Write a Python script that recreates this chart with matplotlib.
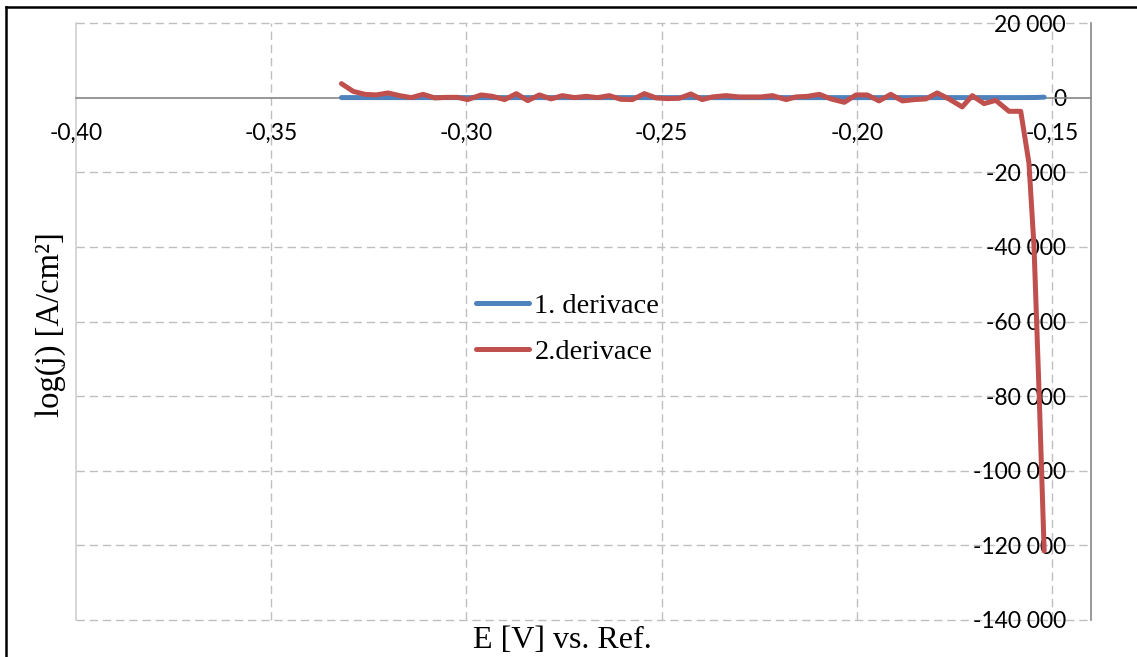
import numpy as np
import matplotlib
matplotlib.use("Agg")
import matplotlib.pyplot as plt
from matplotlib.lines import Line2D

# potencial [V] a hodnoty
e_red = [-0.3320, -0.3290, -0.3260, -0.3231, -0.3201, -0.3171, -0.3141, -0.3111,
         -0.3081, -0.3051, -0.3023, -0.2997, -0.2962, -0.2933, -0.2902, -0.2872,
         -0.2843, -0.2813, -0.2783, -0.2754, -0.2723, -0.2693, -0.2664, -0.2634,
         -0.2604, -0.2575, -0.2544, -0.2514, -0.2485, -0.2455, -0.2425, -0.2396,
         -0.2370, -0.2335, -0.2301, -0.2275, -0.2245, -0.2216, -0.2181, -0.2156,
         -0.2126, -0.2096, -0.2066, -0.2032, -0.2002, -0.1973, -0.1943, -0.1913,
         -0.1883, -0.1853, -0.1823, -0.1794, -0.1764, -0.1730, -0.1704, -0.1674,
         -0.1644, -0.1610, -0.1580, -0.1559, -0.1546, -0.1533, -0.1520]
d2 = [3748, 1687, 883, 723, 1258, 535, 0, 883,
      -80, 80, 80, -535, 723, 348, -535, 1071,
      -803, 723, -348, 535, 0, 348, 0, 535,
      -455, -535, 1071, -80, -268, -187, 990, -535,
      187, 535, 187, 187, 187, 535, -535, 187,
      348, 883, -348, -1258, 723, 723, -883, 883,
      -883, -535, -348, 1258, -348, -2490, 535, -1606,
      -723, -3668, -3668, -17483, -39813, -78983, -121473]

e_blue = [-0.3320, -0.3200, -0.3080, -0.2960, -0.2840, -0.2720, -0.2600, -0.2480,
          -0.2360, -0.2240, -0.2120, -0.2000, -0.1880, -0.1760, -0.1640, -0.1580,
          -0.1540, -0.1520]
d1 = [10, 5, 5, 4, 4, 3, 3, 3, 3, 3, 3, 3, 3, 4, 6, 10, 40, 120]

x_ticks = [-0.40, -0.35, -0.30, -0.25, -0.20, -0.15]
x_tick_labels = ["-0,40", "-0,35", "-0,30", "-0,25", "-0,20", "-0,15"]
y_ticks = [20000, 0, -20000, -40000, -60000, -80000, -100000, -120000, -140000]
y_tick_labels = ["20 000", "0", "-20 000", "-40 000", "-60 000", "-80 000",
                 "-100 000", "-120 000", "-140 000"]

W, H = 1137, 657
fig = plt.figure(figsize=(W / 100, H / 100), dpi=100)
ax = fig.add_axes([76 / W, 1 - 620 / H, (1091 - 76) / W, (620 - 23) / H])

blue = "#4F81BD"
red = "#C0504D"
grid_c = "#BFBFBF"
axis_c = "#868686"

l1, = ax.plot(e_blue, d1, color=blue, lw=3.6, solid_capstyle="round", zorder=3)
l2, = ax.plot(e_red, d2, color=red, lw=3.6, solid_capstyle="round", zorder=4)

ax.set_xlim(-0.40, -0.14)
ax.set_ylim(-140000, 20000)

# mrizka (carkovane)
for xv in x_ticks[1:]:
    ax.axvline(xv, color=grid_c, lw=1.0, ls=(0, (6, 3.5)), zorder=1, clip_on=False)
for yv in y_ticks:
    if yv != 0:
        ax.axhline(yv, color=grid_c, lw=1.0, ls=(0, (6, 3.5)), zorder=1, clip_on=False)

ax.spines["top"].set_visible(False)
ax.spines["bottom"].set_position(("data", 0))
ax.spines["bottom"].set_color(axis_c)
ax.spines["bottom"].set_linewidth(1.2)
ax.spines["left"].set_color("#D0D0D0")
ax.spines["left"].set_linewidth(1.2)
ax.spines["right"].set_color(axis_c)
ax.spines["right"].set_linewidth(1.2)

ax.set_xticks(x_ticks)
ax.set_xticklabels(x_tick_labels)
ax.set_yticks(y_ticks)
ax.set_yticklabels(y_tick_labels)
ax.yaxis.tick_right()
ax.tick_params(axis="x", length=0, pad=18, labelsize=16.5)
ax.tick_params(axis="y", length=0, pad=-18, labelsize=16.5)
for lab in ax.get_xticklabels() + ax.get_yticklabels():
    lab.set_fontfamily("Lato")
for lab in ax.get_yticklabels():
    lab.set_horizontalalignment("right")

serif = "Liberation Serif"
fig.text(562 / W, 1 - 640 / H, "E [V] vs. Ref.", family=serif, fontsize=23,
         ha="center", va="center")
fig.text(51 / W, 1 - 325 / H, "log(j) [A/cm²]", family=serif, fontsize=23.5,
         rotation=90, ha="center", va="center")

ax.legend([l1, l2], ["1. derivace", "2.derivace"], loc="upper left",
          bbox_to_anchor=(476 / W, 1 - 293 / H), bbox_transform=fig.transFigure,
          frameon=False, prop={"family": serif, "size": 20.5}, handlelength=1.85,
          handletextpad=0.2, labelspacing=0.72, borderpad=0, borderaxespad=0)

# ramecek grafu
fig.add_artist(Line2D([6 / W, 6 / W], [0, 1 - 7 / H], color="black", lw=1.8))
fig.add_artist(Line2D([6 / W, 1], [1 - 7 / H, 1 - 7 / H], color="black", lw=1.8))

fig.savefig("out.png", dpi=100)
